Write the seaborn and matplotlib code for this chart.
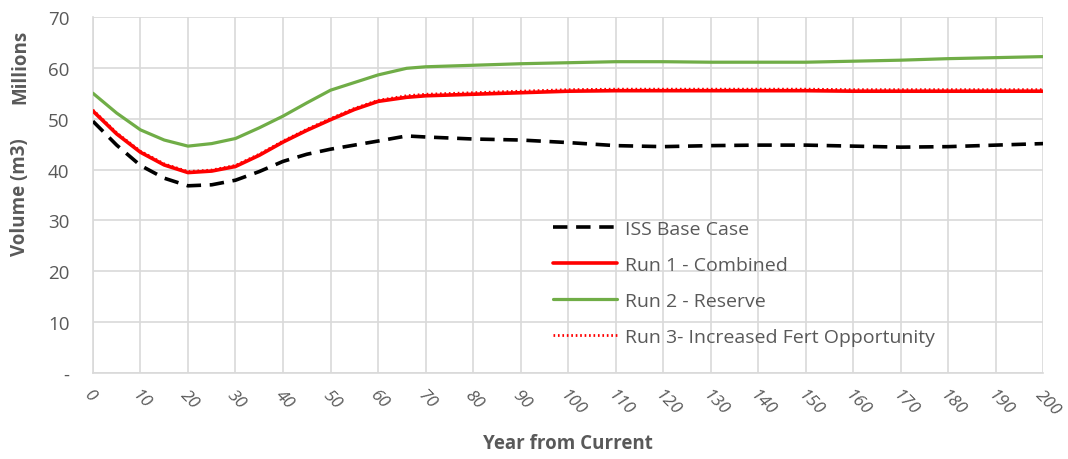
import matplotlib
matplotlib.use("Agg")
import matplotlib.pyplot as plt
import seaborn as sns
import numpy as np
from matplotlib.ticker import FuncFormatter, MultipleLocator

years = [0, 5, 10, 15, 20, 25, 30, 35, 40, 45, 50, 55, 60, 66, 70, 80, 90, 100,
         110, 120, 130, 140, 150, 160, 170, 180, 190, 200]
iss_base = [49.5, 44.8, 40.8, 38.3, 36.8, 37.0, 37.9, 39.6, 41.6, 43.0, 44.0, 44.8, 45.6, 46.6,
            46.4, 46.0, 45.8, 45.3, 44.7, 44.5, 44.7, 44.8, 44.8, 44.6, 44.4, 44.5, 44.8, 45.1]
run1 = [51.5, 47.0, 43.4, 40.9, 39.4, 39.7, 40.6, 42.8, 45.4, 47.7, 49.8, 51.8, 53.4, 54.2,
        54.5, 54.8, 55.1, 55.4, 55.5, 55.5, 55.5, 55.5, 55.5, 55.4, 55.4, 55.4, 55.4, 55.4]
run2 = [55.0, 51.1, 47.8, 45.8, 44.6, 45.1, 46.1, 48.2, 50.5, 53.1, 55.6, 57.1, 58.6, 59.9,
        60.2, 60.5, 60.8, 61.0, 61.2, 61.2, 61.1, 61.1, 61.1, 61.3, 61.5, 61.8, 62.0, 62.2]
run3 = [51.7, 47.2, 43.6, 41.1, 39.6, 39.9, 40.8, 43.0, 45.6, 47.9, 50.0, 52.0, 53.6, 54.5,
        54.8, 55.1, 55.4, 55.7, 55.8, 55.8, 55.8, 55.8, 55.8, 55.7, 55.7, 55.7, 55.7, 55.7]
x_ticks = list(range(0, 201, 10))
y_ticks = list(range(0, 71, 10))

sns.set_style("white")
plt.rcParams['font.family'] = ['Open Sans', 'DejaVu Sans']

fig = plt.figure(figsize=(10.68, 4.6), dpi=100)
ax = fig.add_axes([0.087, 0.187, 0.890, 0.774])

gray = "#595959"
sns.lineplot(x=years, y=run2, ax=ax, color="#70ad47", linewidth=2.3, label="Run 2 - Reserve", zorder=3)
sns.lineplot(x=years, y=iss_base, ax=ax, color="black", linewidth=2.6, linestyle=(0, (4.0, 2.4)),
             label="ISS Base Case", zorder=3)
sns.lineplot(x=years, y=run1, ax=ax, color="#ff0000", linewidth=2.6, label="Run 1 - Combined", zorder=4)
sns.lineplot(x=years, y=run3, ax=ax, color="#ff0000", linewidth=2.0, linestyle=(0, (0.6, 1.0)),
             label="Run 3- Increased Fert Opportunity", zorder=5)

ax.set_xlim(0, 200)
ax.set_ylim(0, 70)
ax.set_xticks(x_ticks)
ax.set_yticks(y_ticks)
ax.yaxis.set_major_formatter(FuncFormatter(lambda v, p: "-" if v == 0 else f"{int(v)}"))
ax.grid(True, color="#d9d9d9", linewidth=1.2)
for s in ["top", "right"]:
    ax.spines[s].set_visible(False)
for s in ["left", "bottom"]:
    ax.spines[s].set_color("#d9d9d9")
    ax.spines[s].set_linewidth(1.2)
ax.tick_params(axis="both", length=0, colors=gray, labelsize=13.5)
ax.tick_params(axis="y", pad=17)
for lab in ax.get_xticklabels():
    lab.set_rotation(-45)
    lab.set_ha("left")
    lab.set_va("top")
    lab.set_rotation_mode("anchor")
    lab.set_fontstyle("italic")
    lab.set_fontsize(12.5)
ax.tick_params(axis="x", pad=10)

ax.set_xlabel("")
ax.set_ylabel("")
fig.text(0.532, 0.035, "Year from Current", ha="center", va="center", fontsize=13.5,
         fontweight="bold", color=gray)
fig.text(0.019, 1 - 197 / 460, "Volume (m3)", rotation=90, ha="center", va="center",
         fontsize=13.5, fontweight="bold", color=gray)
fig.text(0.019, 1 - 67 / 460, "Millions", rotation=90, ha="center", va="center",
         fontsize=13.5, fontweight="bold", color=gray)

handles, labels = ax.get_legend_handles_labels()
order = ["ISS Base Case", "Run 1 - Combined", "Run 2 - Reserve", "Run 3- Increased Fert Opportunity"]
hmap = dict(zip(labels, handles))
leg = ax.legend([hmap[k] for k in order], order, loc="upper left",
                bbox_to_anchor=(0.484, 0.431), frameon=False, fontsize=14,
                handlelength=3.3, labelspacing=0.93, handletextpad=0.4, borderpad=0,
                borderaxespad=0)
for t in leg.get_texts():
    t.set_color(gray)

fig.savefig("out.png", dpi=100)
